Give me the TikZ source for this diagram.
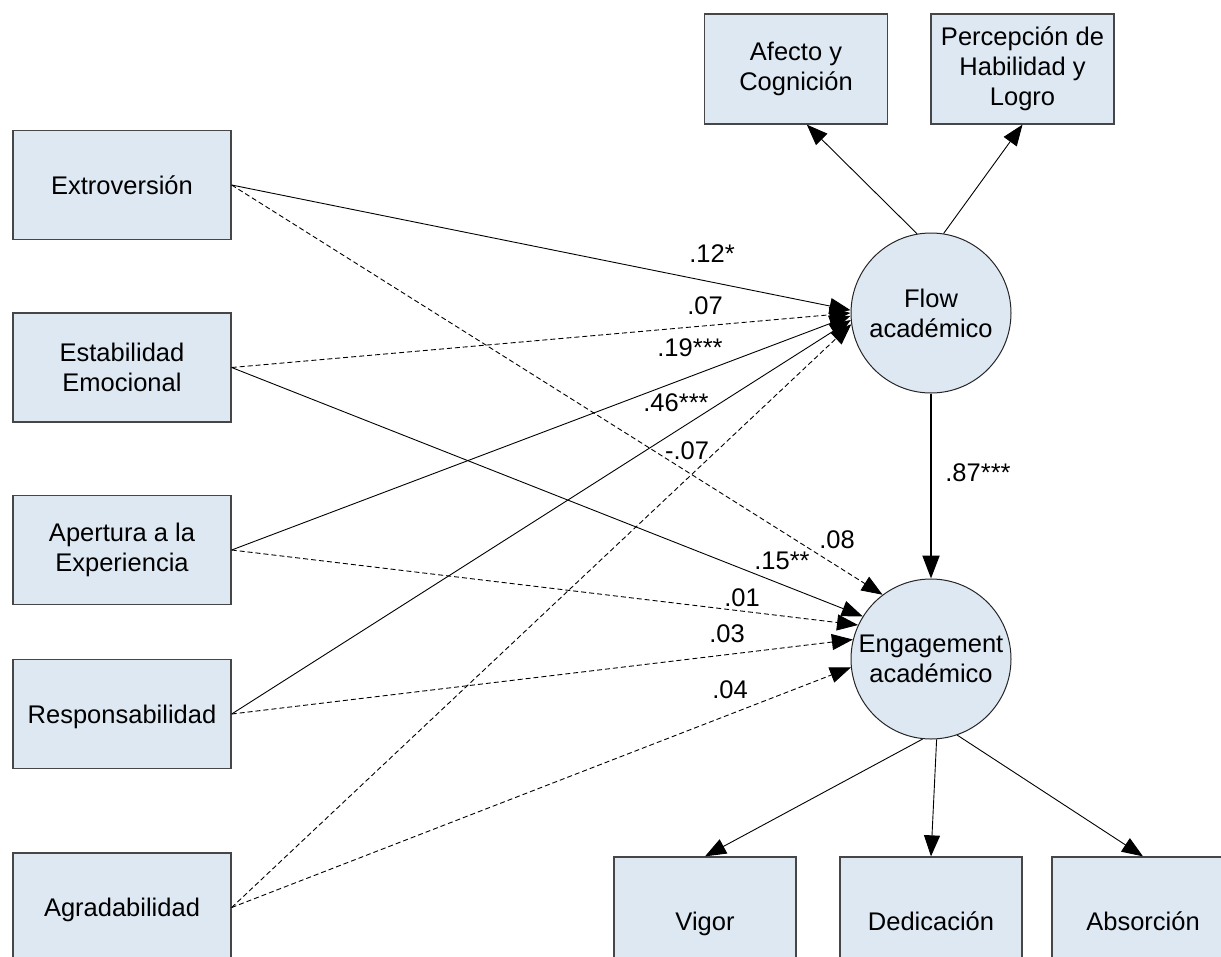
\documentclass[tikz,border=0pt]{standalone}
\usepackage{fontspec}
\setmainfont{Liberation Sans}
\usetikzlibrary{arrows.meta}
\definecolor{boxfill}{RGB}{222,232,243}
\definecolor{boxline}{RGB}{70,70,70}
\begin{document}
\begin{tikzpicture}[x=1pt,y=-1pt,
  every node/.style={font=\fontsize{25.5}{30}\selectfont},
  box/.style={rectangle,draw=boxline,line width=1.3pt,fill=boxfill,align=center,inner sep=0pt},
  one/.style={text height=20pt,text depth=2pt},
  lbox/.style={box,minimum width=218pt,minimum height=109pt},
  tbox/.style={box,minimum width=183pt,minimum height=110pt},
  bbox/.style={box,one,minimum width=182pt,minimum height=128pt},
  latent/.style={circle,draw=black!85,line width=1pt,fill=boxfill,minimum size=160pt,inner sep=0pt,align=center},
  conn/.style={line width=0.9pt,-{Triangle[length=21pt,width=16pt]}},
  ns/.style={dash pattern=on 5pt off 3pt},
  lab/.style={inner sep=0pt}
]
\useasboundingbox (0,0) rectangle (1221,956);
\fill[white] (0,0) rectangle (1221,956);
\clip (0,0) rectangle (1221,956);

% observed variables (left)
\node[lbox,one] (ext)  at (122,185)   {Extroversión};
\node[lbox] (est)  at (122,367.5) {Estabilidad\\Emocional};
\node[lbox] (ape)  at (122,550)   {Apertura a la\\Experiencia};
\node[lbox,one] (resp) at (122,714)   {Responsabilidad};
\node[lbox,one] (agr)  at (122,907.5) {Agradabilidad};

% latent variables
\node[latent] (flow) at (931,313) {Flow\\académico};
\node[latent] (eng)  at (931,659) {Engagement\\académico};

% indicators
\node[tbox] (afe) at (796,69)    {Afecto y\\Cognición};
\node[tbox] (per) at (1022.5,69) {Percepción de\\Habilidad y\\Logro};
\node[bbox] (vig) at (705,921)  {Vigor};
\node[bbox] (ded) at (931,921)  {Dedicación};
\node[bbox] (abs) at (1143,921) {Absorción};

% measurement arrows
\draw[conn] (flow.100) -- (afe.-79);
\draw[conn] (flow.81) -- (per.south);
\draw[conn] (eng.-96) -- (vig.north);
\draw[conn] (eng.-86) -- (ded.north);
\draw[conn] (eng.-71) -- (abs.north);

% structural paths to Flow
\draw[conn]    (ext.east)  -- (flow.178.5);
\draw[conn,ns] (est.east)  -- (flow.180);
\draw[conn]    (ape.east)  -- (flow.182.5);
\draw[conn]    (resp.east) -- (flow.185);
\draw[conn,ns] (agr.east)  -- (flow.188.5);

% structural paths to Engagement
\draw[conn,ns] (ext.east)  -- (eng.127);
\draw[conn]    (est.east)  -- (eng.148);
\draw[conn,ns] (ape.east)  -- (eng.155);
\draw[conn,ns] (resp.east) -- (eng.166);
\draw[conn,ns] (agr.east)  -- (eng.186);

% Flow -> Engagement
\draw[line width=2pt,-{Triangle[length=23pt,width=17pt]}] (flow.south) -- (eng.north);

% coefficients
\node[lab] (l1)  at (712,254) {.12*};
\node[lab] (l2)  at (705,306) {.07};
\node[lab] (l3)  at (690,348) {.19***};
\node[lab] (l4)  at (676,403) {.46***};
\node[lab] (l5)  at (687,451) {-.07};
\node[lab] (l6)  at (837,540) {.08};
\node[lab] (l7)  at (782,561) {.15**};
\node[lab] (l8)  at (742,598) {.01};
\node[lab] (l9)  at (727,634) {.03};
\node[lab] (l10) at (730,690) {.04};
\node[lab] (l11) at (978,473) {.87***};
\end{tikzpicture}
\end{document}
